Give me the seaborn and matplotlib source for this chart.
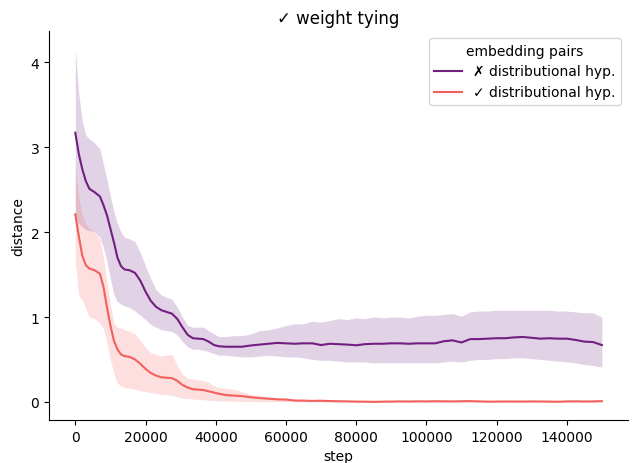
import numpy as np
import pandas as pd
import matplotlib
matplotlib.use("Agg")
import matplotlib.pyplot as plt
import seaborn as sns

# training steps at which the distances were logged
steps = [0, 1000, 2000, 3000, 4000, 5500, 7000, 8000, 9000, 10000,
         11000, 12000, 13000, 14000, 15500, 17000, 18500, 20000, 21500, 23000,
         24500, 26000, 27500, 29000, 30500, 32000, 33500, 35000, 36500, 38000,
         39500, 41000, 43000, 45000, 47500, 50000, 52500, 55000, 57500, 60000,
         62500, 65000, 67500, 70000, 72500, 75000, 77500, 80000, 82500, 85000,
         87500, 90000, 92500, 95000, 97500, 100000, 102500, 105000, 107500, 110000,
         112500, 115000, 117500, 120000, 122500, 125000, 127500, 130000, 132500, 135000,
         137500, 140000, 142500, 145000, 147500, 150000]

# ✗ distributional hyp.: mean distance and lower / upper band
nodh_mean = [3.17, 2.92, 2.74, 2.60, 2.51, 2.47, 2.42, 2.32, 2.20, 2.04,
             1.88, 1.70, 1.60, 1.56, 1.55, 1.52, 1.43, 1.30, 1.19, 1.12,
             1.08, 1.06, 1.04, 0.98, 0.88, 0.79, 0.75, 0.745, 0.74, 0.71,
             0.67, 0.655, 0.65, 0.65, 0.65, 0.665, 0.675, 0.685, 0.695, 0.69,
             0.685, 0.69, 0.69, 0.67, 0.685, 0.68, 0.675, 0.667, 0.68, 0.685,
             0.685, 0.69, 0.69, 0.685, 0.69, 0.69, 0.69, 0.715, 0.725, 0.70,
             0.74, 0.74, 0.745, 0.75, 0.75, 0.76, 0.765, 0.755, 0.745, 0.75,
             0.745, 0.745, 0.73, 0.71, 0.705, 0.67]
nodh_lo = [2.15, 2.10, 2.06, 2.03, 2.02, 2.00, 1.94, 1.82, 1.66, 1.45,
           1.26, 1.18, 1.15, 1.13, 1.11, 1.07, 1.02, 0.97, 0.91, 0.88,
           0.85, 0.84, 0.83, 0.79, 0.71, 0.65, 0.62, 0.62, 0.61, 0.59,
           0.57, 0.55, 0.55, 0.54, 0.53, 0.53, 0.54, 0.55, 0.54, 0.53,
           0.53, 0.52, 0.50, 0.49, 0.49, 0.48, 0.47, 0.47, 0.47, 0.46,
           0.46, 0.46, 0.46, 0.46, 0.46, 0.46, 0.46, 0.47, 0.48, 0.47,
           0.49, 0.50, 0.50, 0.51, 0.51, 0.52, 0.52, 0.51, 0.50, 0.49,
           0.48, 0.47, 0.46, 0.44, 0.43, 0.41]
nodh_hi = [4.16, 3.62, 3.30, 3.14, 3.10, 3.05, 2.98, 2.80, 2.62, 2.42,
           2.24, 2.10, 2.00, 1.94, 1.92, 1.89, 1.76, 1.60, 1.45, 1.32,
           1.26, 1.23, 1.21, 1.12, 1.00, 0.90, 0.88, 0.88, 0.88, 0.84,
           0.80, 0.77, 0.77, 0.78, 0.78, 0.80, 0.84, 0.85, 0.87, 0.90,
           0.92, 0.92, 0.95, 0.94, 0.96, 0.98, 0.97, 0.99, 0.98, 1.00,
           0.99, 1.00, 1.00, 0.99, 1.01, 1.02, 1.02, 1.03, 1.04, 1.01,
           1.06, 1.07, 1.07, 1.08, 1.08, 1.08, 1.08, 1.08, 1.08, 1.08,
           1.07, 1.07, 1.06, 1.05, 1.05, 1.00]

# ✓ distributional hyp.: mean distance and lower / upper band
dh_mean = [2.21, 1.95, 1.72, 1.61, 1.57, 1.55, 1.51, 1.36, 1.12, 0.90,
           0.72, 0.62, 0.56, 0.54, 0.53, 0.50, 0.45, 0.39, 0.34, 0.31,
           0.29, 0.285, 0.28, 0.25, 0.20, 0.17, 0.15, 0.145, 0.14, 0.125,
           0.11, 0.095, 0.08, 0.075, 0.068, 0.055, 0.045, 0.038, 0.03, 0.028,
           0.016, 0.015, 0.012, 0.014, 0.010, 0.008, 0.006, 0.004, 0.003, 0.001,
           0.003, 0.004, 0.006, 0.005, 0.007, 0.006, 0.008, 0.007, 0.006, 0.008,
           0.009, 0.006, 0.003, 0.004, 0.005, 0.005, 0.004, 0.006, 0.005, 0.004,
           0.002, 0.006, 0.007, 0.005, 0.006, 0.009]
dh_lo = [1.65, 1.25, 1.20, 1.10, 1.00, 0.98, 0.93, 0.86, 0.70, 0.50,
         0.33, 0.22, 0.19, 0.17, 0.16, 0.15, 0.13, 0.12, 0.11, 0.10,
         0.09, 0.085, 0.08, 0.06, 0.045, 0.04, 0.035, 0.03, 0.025, 0.02,
         0.015, 0.012, 0.010, 0.008, 0.006, 0.005, 0.004, 0.003, 0.002, 0.002,
         0.001, 0.001, 0.0, 0.001, 0.0, 0.0, -0.001, -0.001, -0.002, -0.003,
         -0.002, -0.001, 0.0, -0.001, 0.0, -0.001, 0.0, 0.0, -0.001, 0.0,
         0.0, -0.001, -0.003, -0.002, -0.002, -0.002, -0.002, -0.001, -0.002, -0.002,
         -0.003, -0.001, 0.0, -0.002, -0.001, 0.0]
dh_hi = [2.77, 2.40, 2.20, 2.10, 2.04, 2.00, 1.92, 1.70, 1.42, 1.15,
         0.92, 0.88, 0.87, 0.85, 0.83, 0.80, 0.72, 0.64, 0.58, 0.56,
         0.54, 0.55, 0.56, 0.43, 0.33, 0.28, 0.27, 0.26, 0.25, 0.23,
         0.19, 0.17, 0.16, 0.15, 0.12, 0.09, 0.075, 0.06, 0.05, 0.045,
         0.035, 0.03, 0.025, 0.026, 0.022, 0.019, 0.017, 0.015, 0.014, 0.012,
         0.014, 0.015, 0.017, 0.016, 0.018, 0.017, 0.019, 0.018, 0.017, 0.019,
         0.020, 0.017, 0.014, 0.015, 0.016, 0.016, 0.015, 0.017, 0.016, 0.015,
         0.013, 0.017, 0.018, 0.016, 0.017, 0.020]

labels = ["✗ distributional hyp.", "✓ distributional hyp."]

# long form: each step carries the band edges and the centre value,
# so the median is the centre line and the full percentile range is the band
rows = []
for label, lo, mid, hi in [(labels[0], nodh_lo, nodh_mean, nodh_hi),
                           (labels[1], dh_lo, dh_mean, dh_hi)]:
    for s, a, b, c in zip(steps, lo, mid, hi):
        for v in (a, b, c):
            rows.append({"step": s, "distance": v, "embedding pairs": label})
df = pd.DataFrame(rows)

fig, ax = plt.subplots(figsize=(6.32, 4.64), dpi=100)
sns.lineplot(data=df, x="step", y="distance", hue="embedding pairs",
             hue_order=labels, palette="magma", estimator="median",
             errorbar=("pi", 100), err_kws={"linewidth": 0}, ax=ax)
sns.despine(ax=ax)
ax.set_title("✓ weight tying")
ax.legend(title="embedding pairs", loc="upper right")
fig.subplots_adjust(left=0.0775, right=0.994, top=0.931, bottom=0.093)
fig.savefig("out.png", dpi=100)
